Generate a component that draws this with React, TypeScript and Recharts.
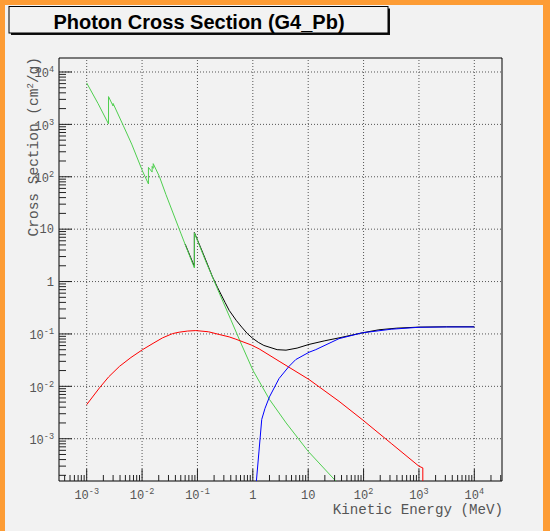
import React from "react";
import { LineChart, Line, XAxis, YAxis, ReferenceLine, ReferenceArea } from "recharts";

// ---- data (energy in MeV, cross section in cm2/g) ----
const photoE = [0.001, 0.0016, 0.00248, 0.00248, 0.003, 0.003, 0.0046, 0.0065, 0.0102, 0.01304, 0.01304, 0.0152, 0.0152, 0.0159, 0.0159, 0.0205, 0.027, 0.05, 0.063, 0.088, 0.088, 0.141, 0.23, 0.4, 0.63, 1.0, 2.0, 4.0, 10.0, 31.6, 40];
const photoV = [6170, 2510, 1020, 3390, 2240, 2510, 940, 420, 128, 73, 151, 123, 158, 145, 178, 102, 45.7, 8.41, 4.47, 1.82, 8.51, 2.45, 0.726, 0.188, 0.0617, 0.0204, 0.00562, 0.002, 0.000575, 0.000155, 0.000117];

const comptE = [0.001, 0.0017, 0.0025, 0.0039, 0.0063, 0.0102, 0.0158, 0.0234, 0.0355, 0.0468, 0.066, 0.0933, 0.158, 0.247, 0.374, 0.494, 0.933, 1.3, 2.98, 10.35, 36, 94.6, 316, 1000, 1175, 1175];
const comptV = [0.00447, 0.00933, 0.0152, 0.024, 0.0355, 0.0501, 0.0661, 0.0841, 0.1014, 0.108, 0.1135, 0.116, 0.11, 0.0977, 0.0879, 0.0794, 0.0617, 0.0519, 0.0302, 0.0135, 0.00519, 0.00232, 0.000813, 0.000299, 0.000277, 0.00001];

const pairE = [1.04, 1.16, 1.29, 1.45, 1.66, 2.0, 2.98, 4.5, 5.96, 10.35, 13.7, 36, 94.6, 316, 1000, 3160, 10000];
const pairV = [0.00001, 0.000155, 0.00056, 0.00234, 0.0038, 0.0063, 0.0141, 0.024, 0.0324, 0.0447, 0.0501, 0.0813, 0.105, 0.123, 0.134, 0.136, 0.136];

const totalE = [0.06, 0.088, 0.088, 0.126, 0.187, 0.23, 0.316, 0.374, 0.501, 0.631, 0.794, 0.984, 1.26, 1.585, 2.75, 3.98, 6.31, 10.35, 20, 36, 94.6, 189, 398, 1000, 3160, 10000];
const totalV = [5.2, 1.94, 8.63, 3.47, 1.23, 0.776, 0.398, 0.282, 0.182, 0.135, 0.102, 0.0832, 0.069, 0.0603, 0.0501, 0.049, 0.0537, 0.0631, 0.0741, 0.0841, 0.105, 0.12, 0.129, 0.135, 0.137, 0.137];

// ---- axes ----
const X_MAJOR = [0.001, 0.01, 0.1, 1, 10, 100, 1000, 10000];
const X_EXP = ["-3", "-2", "-1", "0", "1", "2", "3", "4"];
const Y_MAJOR = [0.001, 0.01, 0.1, 1, 10, 100, 1000, 10000];
const Y_EXP = ["-3", "-2", "-1", "0", "1", "2", "3", "4"];
const DECADES = [0.0001, 0.001, 0.01, 0.1, 1, 10, 100, 1000, 10000];
const MINOR_MULT = [2, 3, 4, 5, 6, 7, 8, 9];

const X_MIN = Math.pow(10, -3.5);
const X_MAX = Math.pow(10, 4.5);
const Y_MIN = Math.pow(10, -3.807);
const Y_MAX = Math.pow(10, 4.267);

const minorTicks = (lo: number, hi: number) => {
  const out: number[] = [];
  DECADES.forEach((d) => MINOR_MULT.forEach((m) => {
    const v = Number((d * m).toPrecision(6));
    if (v > lo && v < hi) out.push(v);
  }));
  return out;
};
const X_TICKS = [...X_MAJOR, ...minorTicks(X_MIN, X_MAX)].sort((a, b) => a - b);
const Y_TICKS = [...Y_MAJOR, ...minorTicks(Y_MIN, Y_MAX)].sort((a, b) => a - b);

const toData = (e: number[], v: number[]) => e.map((x, i) => ({ e: x, v: v[i] }));
const photoData = toData(photoE, photoV);
const comptData = toData(comptE, comptV);
const pairData = toData(pairE, pairV);
const totalData = toData(totalE, totalV);

const MONO = "'Liberation Mono', 'DejaVu Sans Mono', monospace";
const LABEL_COLOR = "#555";

const labelContent = (exp: string) => {
  if (exp === "0") return "1";
  if (exp === "1") return "10";
  return [
    <tspan key="b">10</tspan>,
    <tspan key="s" dy={-5} fontSize={8.5}>{exp}</tspan>,
  ];
};

const XTick = (p: any) => {
  const { x, y, payload } = p;
  const i = X_MAJOR.indexOf(payload.value);
  const major = i >= 0;
  return (
    <g>
      <line x1={x} x2={x} y1={y} y2={y - (major ? 12 : 6)} stroke="#222" strokeWidth={1} />
      {major && (
        <text x={x} y={y + 17.5} textAnchor="middle" fontFamily={MONO} fontSize={12} fill={LABEL_COLOR}>
          {labelContent(X_EXP[i])}
        </text>
      )}
    </g>
  );
};

const YTick = (p: any) => {
  const { x, y, payload } = p;
  const i = Y_MAJOR.indexOf(payload.value);
  const major = i >= 0;
  const sup = major && Y_EXP[i] !== "0" && Y_EXP[i] !== "1";
  return (
    <g>
      <line x1={x} x2={x + (major ? 13 : 7)} y1={y} y2={y} stroke="#222" strokeWidth={1} />
      {major && (
        <text x={x - 5} y={y + (sup ? 5.5 : 4)} textAnchor="end" fontFamily={MONO} fontSize={12} fill={LABEL_COLOR}>
          {labelContent(Y_EXP[i])}
        </text>
      )}
    </g>
  );
};

const GRID = { stroke: "#555", strokeDasharray: "1 2", strokeWidth: 1 };

export default function App() {
  return (
    <div style={{ position: "absolute", left: 0, top: 0, width: 550, height: 531, background: "#fd9c35", overflow: "hidden" }}>
      <div style={{ position: "absolute", left: 5, top: 5, width: 538, height: 526, background: "#f2f2f2" }} />
      <div style={{ position: "absolute", left: 0, top: 0 }}>
        <LineChart width={550} height={531} margin={{ top: 58, right: 48, left: 0, bottom: 0 }}>
          <XAxis
            dataKey="e"
            type="number"
            scale="log"
            domain={[X_MIN, X_MAX]}
            allowDataOverflow
            ticks={X_TICKS}
            interval={0}
            tick={<XTick />}
            tickLine={false}
            axisLine={false}
            tickSize={0}
            tickMargin={0}
            height={50}
          />
          <YAxis
            type="number"
            scale="log"
            domain={[Y_MIN, Y_MAX]}
            allowDataOverflow
            ticks={Y_TICKS}
            interval={0}
            tick={<YTick />}
            tickLine={false}
            axisLine={false}
            tickSize={0}
            tickMargin={0}
            width={59}
          />
          {X_MAJOR.map((v) => (
            <ReferenceLine key={"gx" + v} x={v} {...GRID} />
          ))}
          {Y_MAJOR.map((v) => (
            <ReferenceLine key={"gy" + v} y={v} {...GRID} />
          ))}
          <Line data={totalData} dataKey="v" type="linear" stroke="#000000" strokeWidth={1} dot={false} activeDot={false} isAnimationActive={false} />
          <Line data={photoData} dataKey="v" type="linear" stroke="#4fcf4f" strokeWidth={1} dot={false} activeDot={false} isAnimationActive={false} />
          <Line data={comptData} dataKey="v" type="linear" stroke="#ff0000" strokeWidth={1} dot={false} activeDot={false} isAnimationActive={false} />
          <Line data={pairData} dataKey="v" type="linear" stroke="#0000ff" strokeWidth={1} dot={false} activeDot={false} isAnimationActive={false} />
          <ReferenceArea x1={X_MIN} x2={X_MAX} y1={Y_MIN} y2={Y_MAX} fill="none" fillOpacity={0} stroke="#000" strokeWidth={1} />
        </LineChart>
      </div>
      <svg width={550} height={531} style={{ position: "absolute", left: 0, top: 0, pointerEvents: "none" }}>
        <rect x={11} y={8.5} width={379} height={26.5} fill="#111" />
        <rect x={9} y={6.5} width={379} height={26.5} fill="#f2f2f2" stroke="#000" strokeWidth={1} />
        <text x={199} y={28.5} textAnchor="middle" fontFamily="'Liberation Sans', Arial, sans-serif" fontWeight="bold" fontSize={20} fill="#000">
          Photon Cross Section (G4_Pb)
        </text>
        <text transform="translate(38,57) rotate(-90)" textAnchor="end" fontFamily={MONO} fontSize={14.5} fill={LABEL_COLOR}>
          Cross Section (cm<tspan dy={-5} fontSize={9}>2</tspan><tspan dy={5}>/g)</tspan>
        </text>
        <text x={503} y={514} textAnchor="end" fontFamily={MONO} fontSize={14.2} fill={LABEL_COLOR}>
          Kinetic Energy (MeV)
        </text>
      </svg>
    </div>
  );
}
